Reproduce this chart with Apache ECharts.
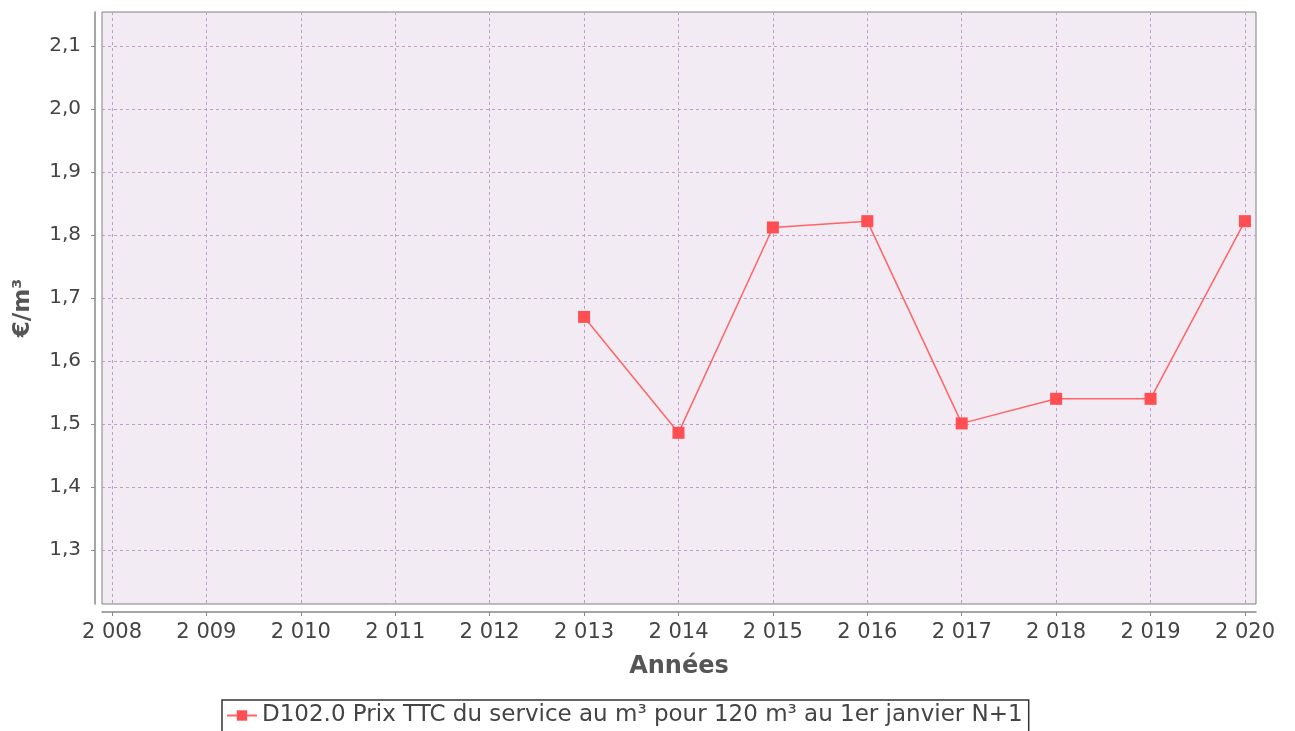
<!DOCTYPE html>
<html>
<head>
<meta charset="utf-8">
<script src="https://cdn.jsdelivr.net/npm/echarts@6/dist/echarts.min.js"></script>
<style>html,body{margin:0;padding:0;background:#fff}#c{width:1295px;height:731px}</style>
</head>
<body>
<div id="c"></div>
<script>
const years = [2013, 2014, 2015, 2016, 2017, 2018, 2019, 2020];
const prices = [1.67, 1.486, 1.812, 1.822, 1.501, 1.54, 1.54, 1.822];
const xTicks = [2008, 2009, 2010, 2011, 2012, 2013, 2014, 2015, 2016, 2017, 2018, 2019, 2020];
const yTicks = [1.3, 1.4, 1.5, 1.6, 1.7, 1.8, 1.9, 2.0, 2.1];
const seriesName = 'D102.0 Prix TTC du service au m³ pour 120 m³ au 1er janvier N+1';
const xTitle = 'Années';
const yTitle = '€/m³';

const font = 'DejaVu Sans';
const chart = echarts.init(document.getElementById('c'), null, {renderer: 'canvas'});
chart.setOption({
  animation: false,
  textStyle: {fontFamily: font},
  grid: {left: 102, top: 12, right: 39, bottom: 127, show: true,
         backgroundColor: '#F2EBF3', borderColor: '#808080', borderWidth: 1},
  xAxis: {
    type: 'value', min: 2007.894, max: 2020.117, offset: 8,
    name: xTitle, nameLocation: 'middle', nameGap: 43,
    nameTextStyle: {fontFamily: font, fontSize: 24, fontWeight: 'bold', color: '#555'},
    axisLine: {show: true, lineStyle: {color: '#888', width: 1.5}},
    axisTick: {show: true, length: 4, customValues: xTicks, lineStyle: {color: '#888'}},
    axisLabel: {customValues: xTicks, fontFamily: font, fontSize: 21, color: '#444', margin: 10,
      formatter: v => { const s = String(Math.round(v)); return s.slice(0,1) + ' ' + s.slice(1); }},
    splitLine: {show: true, lineStyle: {color: '#C09CC8', type: [3, 3], width: 1}}
  },
  yAxis: {
    type: 'value', min: 1.2143, max: 2.154, offset: 7,
    name: yTitle, nameLocation: 'middle', nameGap: 60, nameRotate: 90,
    nameTextStyle: {fontFamily: font, fontSize: 23, fontWeight: 'bold', color: '#555'},
    axisLine: {show: true, lineStyle: {color: '#888', width: 1.5}},
    axisTick: {show: true, length: 4, customValues: yTicks, lineStyle: {color: '#888'}},
    axisLabel: {customValues: yTicks, fontFamily: font, fontSize: 20, color: '#444', margin: 14,
      formatter: v => v.toFixed(1).replace('.', ',')},
    splitLine: {show: true, lineStyle: {color: '#C09CC8', type: [3, 3], width: 1}}
  },
  legend: {
    left: 222, top: 700, padding: [4, 6, 12, 4],
    borderColor: '#333', borderWidth: 1.5,
    itemWidth: 30, itemHeight: 13, itemGap: 5,
    textStyle: {fontFamily: font, fontSize: 23, color: '#444'},
    data: [seriesName]
  },
  series: [{
    name: seriesName, type: 'line',
    data: years.map((y, i) => [y, prices[i]]),
    symbol: 'rect', symbolSize: 12,
    itemStyle: {color: '#FF4F52'},
    lineStyle: {color: '#FF6466', width: 1.5},
    z: 3
  }]
});
</script>
</body>
</html>
